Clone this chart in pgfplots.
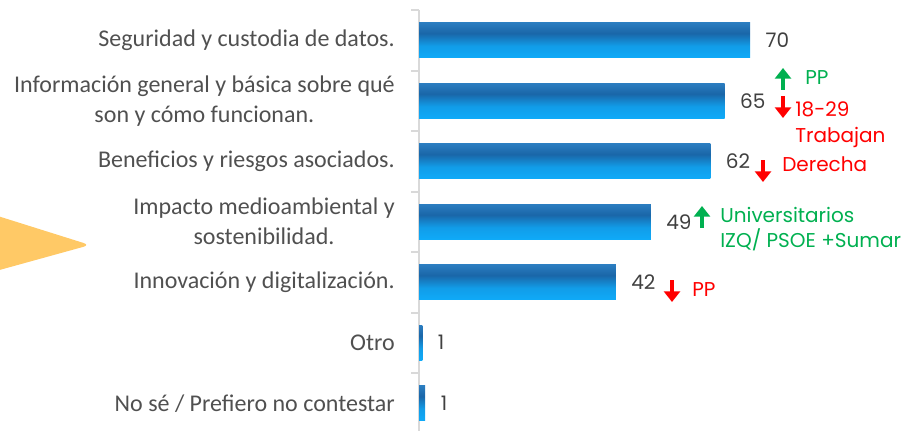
\documentclass[border=0pt]{standalone}
\usepackage{fontspec}
\setmainfont{Carlito}
\newfontfamily\cg{Poppins}
\usepackage{pgfplots}
\pgfplotsset{compat=1.18}
\usetikzlibrary{arrows.meta}
\definecolor{lblgray}{HTML}{505050}
\definecolor{numgray}{HTML}{404040}
\definecolor{axgray}{HTML}{D9D9D9}
\definecolor{upgreen}{HTML}{00B050}
\definecolor{downred}{HTML}{FF0000}
\definecolor{callout}{HTML}{FFC966}
\definecolor{barlight}{HTML}{0FAAF8}
\definecolor{bardark}{HTML}{1A66A8}
\definecolor{bartop}{HTML}{2B7DC0}
% bottom -> top, the bar fills 25bp..75bp
\pgfdeclareverticalshading{barshade}{100bp}{color(0bp)=(barlight); color(25bp)=(barlight); color(42bp)=(barlight!80!bardark); color(60bp)=(bardark); color(75bp)=(bartop); color(100bp)=(bartop)}

\begin{document}
\begin{tikzpicture}
\useasboundingbox (0,0) rectangle (684pt,-323.25pt);
% callout shape at the left edge
\begin{scope}[x=0.75pt,y=-0.75pt]
\fill[callout, rounded corners=5pt] (-15,212) -- (90,245) -- (-15,274) -- cycle;
\end{scope}

\begin{axis}[
    at={(314.25pt,-325.125pt)}, anchor=south west,
    scale only axis, width=354.75pt, height=317.625pt,
    xmin=0, xmax=100, ymin=-0.5, ymax=6.5,
    axis x line=none, axis y line*=left,
    y axis line style={axgray, line width=1.5pt},
    ytick={0,...,6},
    yticklabels={No sé / Prefiero no contestar, Otro, Innovación y digitalización., {Impacto medioambiental y\\sostenibilidad.}, Beneficios y riesgos asociados., {Información general y básica sobre qué\\son y cómo funcionan.}, Seguridad y custodia de datos.},
    major tick length=0pt,
    extra y ticks={-0.5,0.5,1.5,2.5,3.5,4.5,5.5,6.5},
    extra y tick labels={},
    extra y tick style={tick align=outside, major tick length=6pt, tick style={axgray, line width=1.5pt}},
    yticklabel style={font=\fontsize{18}{22.5}\selectfont, text=lblgray, align=center, inner sep=0pt, xshift=-18pt},
    xbar, bar width=0.58, bar shift=0pt,
    /pgf/number format/assume math mode=true,
    nodes near coords={\pgfmathprintnumber[fixed,precision=0]{\pgfplotspointmeta}},
    nodes near coords align=horizontal,
    nodes near coords style={font=\cg\fontsize{15}{18}\selectfont, text=numgray, anchor=west, inner sep=0pt, xshift=11.5pt},
    clip=false,
]
% one plot for each bar so that every bar gets its own shading
\addplot[draw=none, shading=barshade] coordinates {(1.3,0)};
\addplot[draw=none, shading=barshade] coordinates {(0.7,1)};
\addplot[draw=none, shading=barshade] coordinates {(41.6,2)};
\addplot[draw=none, shading=barshade] coordinates {(49,3)};
\addplot[draw=none, shading=barshade] coordinates {(61.6,4)};
\addplot[draw=none, shading=barshade] coordinates {(64.6,5)};
\addplot[draw=none, shading=barshade] coordinates {(70,6)};
\end{axis}

% arrows and notes on the groups
\begin{scope}[x=0.75pt,y=-0.75pt, font=\cg\fontsize{15}{18}\selectfont,
    every node/.style={anchor=west, inner sep=0pt, text height=0.7em, text depth=0pt},
    up/.style={upgreen, line width=2.4pt, -{Triangle[width=12pt,length=8pt]}},
    down/.style={downred, line width=2.4pt, -{Triangle[width=12pt,length=8pt]}}]
\draw[up] (783,90) -- (783,68);
\node[text=upgreen] at (805,80) {PP};
\draw[down] (783,96) -- (783,118);
\node[text=downred] at (795,112) {18-29};
\node[text=downred] at (795,138) {Trabajan};
\draw[down] (763,160) -- (763,182);
\node[text=downred] at (782,167) {Derecha};
\draw[up] (702,228) -- (702,206);
\node[text=upgreen] at (720,218) {Universitarios};
\node[text=upgreen] at (720,243) {IZQ/ PSOE +Sumar};
\draw[down] (672,280) -- (672,302);
\node[text=downred] at (692,292) {PP};
\end{scope}
\end{tikzpicture}
\end{document}
